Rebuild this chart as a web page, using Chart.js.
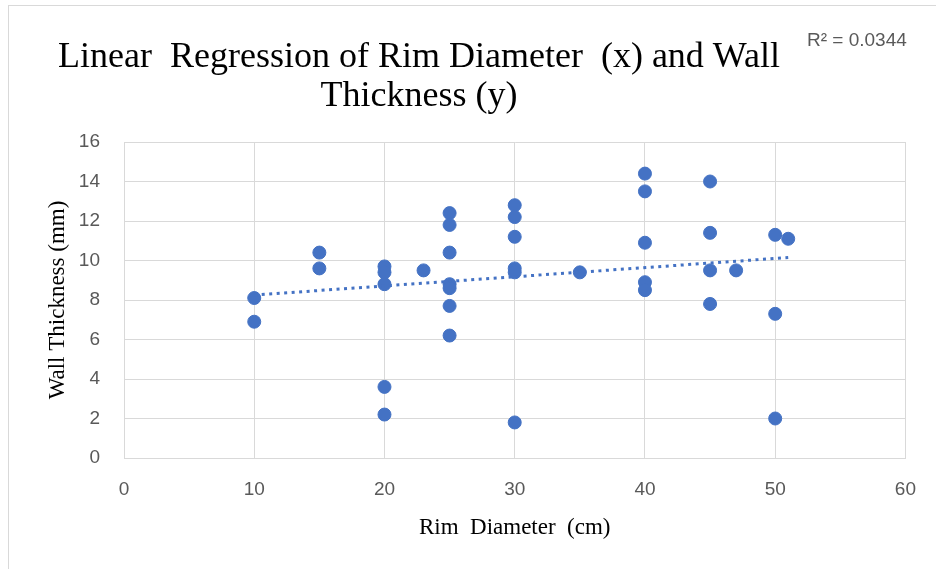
<!DOCTYPE html>
<html>
<head>
<meta charset="utf-8">
<script src="https://cdn.jsdelivr.net/npm/chart.js@4.4.1/dist/chart.umd.min.js"></script>
<style>
  html, body { margin: 0; padding: 0; background: #ffffff; }
  #wrap { width: 936px; height: 569px; position: relative; }
</style>
</head>
<body>
<div id="wrap"><canvas id="chart"></canvas></div>
<script>
// values
const rimDiameter = [10, 10, 15, 15, 20, 20, 20, 20, 20, 23, 25, 25, 25, 25, 25, 25, 25,
    30, 30, 30, 30, 30, 30, 35, 40, 40, 40, 40, 40, 45, 45, 45, 45, 47, 50, 50, 50, 51];
const wallThickness = [8.1, 6.9, 10.4, 9.6, 9.7, 9.4, 8.8, 3.6, 2.2, 9.5, 12.4, 11.8, 10.4, 8.8, 8.6, 7.7, 6.2,
    12.8, 12.2, 11.2, 9.6, 9.4, 1.8, 9.4, 14.4, 13.5, 10.9, 8.9, 8.5, 14.0, 11.4, 9.5, 7.8, 9.5, 11.3, 7.3, 2.0, 11.1];

// trendline ends as drawn in the picture
const trendX = [10, 51];
const trendY = [8.25, 10.15];

const titleLines = ['Linear  Regression of Rim Diameter  (x) and Wall', 'Thickness (y)'];
const rSquaredText = 'R\u00B2 = 0.0344';

const blue = '#4472C4';
const gridColor = '#d9d9d9';
const tickColor = '#595959';

// frame, title and R² label drawn on the canvas
const decorations = {
    id: 'decorations',
    beforeDraw: function(chart) {
        const ctx = chart.ctx;
        ctx.save();
        ctx.fillStyle = '#ffffff';
        ctx.fillRect(0, 0, chart.width, chart.height);
        ctx.strokeStyle = gridColor;
        ctx.lineWidth = 1;
        ctx.strokeRect(8.5, 5.5, chart.width + 20, chart.height + 20);
        ctx.restore();
    },
    afterDraw: function(chart) {
        const ctx = chart.ctx;
        ctx.save();
        ctx.fillStyle = '#000000';
        ctx.font = '36px "Liberation Serif", "Times New Roman", serif';
        ctx.textAlign = 'center';
        ctx.textBaseline = 'alphabetic';
        ctx.fillText(titleLines[0], 419, 67);
        ctx.fillText(titleLines[1], 419, 106);

        ctx.fillStyle = tickColor;
        ctx.font = '19px "Liberation Sans", Arial, sans-serif';
        ctx.textAlign = 'left';
        ctx.textBaseline = 'middle';
        ctx.fillText(rSquaredText, 807, 41);
        ctx.restore();
    }
};

const ctx = document.getElementById('chart');

new Chart(ctx, {
    type: 'scatter',
    data: {
        datasets: [
            {
                label: 'Linear trend',
                type: 'line',
                data: trendX.map((x, i) => ({ x: x, y: trendY[i] })),
                borderColor: blue,
                borderWidth: 3,
                borderDash: [3, 4.5],
                pointRadius: 0,
                fill: false,
                order: 0
            },
            {
                label: 'Wall Thickness',
                data: rimDiameter.map((x, i) => ({ x: x, y: wallThickness[i] })),
                backgroundColor: blue,
                borderColor: blue,
                pointRadius: 6.5,
                pointHoverRadius: 6.5,
                order: 1
            }
        ]
    },
    options: {
        responsive: true,
        maintainAspectRatio: false,
        animation: false,
        layout: {
            padding: { top: 142, right: 30, left: 0, bottom: 0 }
        },
        plugins: {
            legend: { display: false },
            title: { display: false },
            tooltip: { enabled: false }
        },
        scales: {
            x: {
                type: 'linear',
                min: 0,
                max: 60,
                afterFit: function(scale) { scale.height = 111; },
                ticks: {
                    stepSize: 10,
                    padding: 20,
                    color: tickColor,
                    font: { family: '"Liberation Sans", Arial, sans-serif', size: 19 }
                },
                grid: { color: gridColor, drawTicks: false },
                border: { color: gridColor },
                title: {
                    display: true,
                    text: 'Rim  Diameter  (cm)',
                    color: '#000000',
                    padding: { top: 0, bottom: 27 },
                    font: { family: '"Liberation Serif", "Times New Roman", serif', size: 23 }
                }
            },
            y: {
                min: 0,
                max: 16,
                afterFit: function(scale) { scale.width = 124; },
                ticks: {
                    stepSize: 2,
                    padding: 24,
                    color: tickColor,
                    font: { family: '"Liberation Sans", Arial, sans-serif', size: 19 }
                },
                grid: { color: gridColor, drawTicks: false },
                border: { color: gridColor },
                title: {
                    display: true,
                    text: 'Wall Thickness (mm)',
                    color: '#000000',
                    padding: { top: 44, bottom: 0 },
                    font: { family: '"Liberation Serif", "Times New Roman", serif', size: 23 }
                }
            }
        }
    },
    plugins: [decorations]
});
</script>
</body>
</html>
